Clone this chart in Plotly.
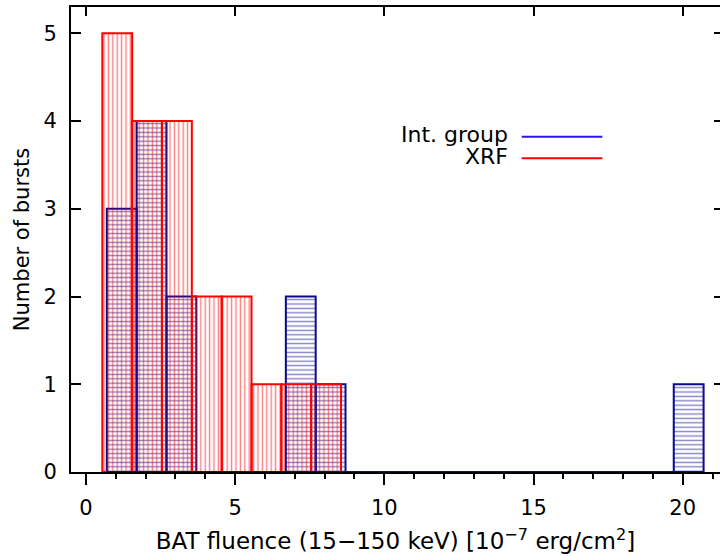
import plotly.graph_objects as go

# ---- data ----
xrf_bin_centers = [1.05, 2.05, 3.05, 4.05, 5.05, 6.05, 7.05, 8.05]
xrf_counts = [5, 4, 4, 2, 2, 1, 1, 1]

int_bin_centers = [1.2, 2.2, 3.2, 4.2, 5.2, 6.2, 7.2, 8.2, 9.2, 10.2,
                   11.2, 12.2, 13.2, 14.2, 15.2, 16.2, 17.2, 18.2, 19.2, 20.2]
int_counts = [3, 4, 2, 0, 0, 0, 2, 1, 0, 0,
              0, 0, 0, 0, 0, 0, 0, 0, 0, 1]
bin_width = 1.0

x_ticks = [0, 5, 10, 15, 20]
y_ticks = [0, 1, 2, 3, 4, 5]
legend_names = ["Int. group", "XRF"]

NAVY = "#0a0a8a"
RED = "#ff0000"
LEG_BLUE = "#2a16ee"
FONT = "DejaVu Sans"

fig = go.Figure()

# Int. group histogram (horizontal hatching)
fig.add_trace(go.Bar(
    x=int_bin_centers, y=int_counts, width=bin_width,
    marker=dict(color="rgba(0,0,0,0)",
                line=dict(color=NAVY, width=2),
                pattern=dict(shape="-", size=4.4, solidity=0.32,
                             fgcolor=NAVY, fillmode="overlay")),
    cliponaxis=False, showlegend=False, hoverinfo="skip"))

# baseline of the Int. group histogram
fig.add_trace(go.Scatter(
    x=[int_bin_centers[0] - bin_width / 2, int_bin_centers[-1] + bin_width / 2],
    y=[0, 0], mode="lines", line=dict(color=NAVY, width=2),
    cliponaxis=False, showlegend=False, hoverinfo="skip"))

# XRF histogram (vertical hatching)
fig.add_trace(go.Bar(
    x=xrf_bin_centers, y=xrf_counts, width=bin_width,
    marker=dict(color="rgba(0,0,0,0)",
                line=dict(color=RED, width=2),
                pattern=dict(shape="|", size=4.4, solidity=0.32,
                             fgcolor=RED, fillmode="overlay")),
    cliponaxis=False, showlegend=False, hoverinfo="skip"))

# invisible trace to anchor mirrored axes
fig.add_trace(go.Scatter(x=[None], y=[None], xaxis="x2", yaxis="y2",
                         showlegend=False, hoverinfo="skip"))

xr = [-0.5, 21.25]
yr = [0, 5.3]

fig.update_layout(
    width=720, height=557,
    margin=dict(l=71, r=0, t=7, b=85),
    paper_bgcolor="white", plot_bgcolor="white",
    barmode="overlay",
    font=dict(family=FONT, size=20, color="black"),
    xaxis=dict(range=xr, tickvals=x_ticks, ticks="outside", ticklen=11,
               tickwidth=2, tickcolor="black",
               minor=dict(dtick=1, ticks="outside", ticklen=5, tickwidth=2,
                          tickcolor="black"),
               showline=True, linewidth=2, linecolor="black",
               showgrid=False, zeroline=False, layer="below traces",
               ticklabelstandoff=5,
               title=dict(text="BAT fluence (15−150 keV) [10<sup>−7</sup> erg/cm<sup>2</sup>]",
                          standoff=14, font=dict(size=23)),
               tickfont=dict(size=21)),
    yaxis=dict(range=yr, tickvals=y_ticks, ticks="inside", ticklen=10,
               tickwidth=2, tickcolor="black",
               showline=True, linewidth=2, linecolor="black",
               showgrid=False, zeroline=False, layer="below traces",
               ticklabelstandoff=8,
               title=dict(text="Number of bursts", standoff=8,
                          font=dict(size=21)),
               tickfont=dict(size=21)),
    xaxis2=dict(range=xr, overlaying="x", side="top", anchor="y",
                tickvals=x_ticks, ticks="inside", ticklen=9, tickwidth=2,
                tickcolor="black", showticklabels=False,
                showline=True, linewidth=2, linecolor="black",
                showgrid=False, zeroline=False),
    yaxis2=dict(range=yr, overlaying="y", side="right", anchor="x",
                tickvals=y_ticks, ticks="inside", ticklen=6, tickwidth=2,
                tickcolor="black", showticklabels=False, showline=False,
                showgrid=False, zeroline=False),
)

# legend (text left of line, as in the original)
leg_colors = [LEG_BLUE, RED]
leg_y = [0.7211, 0.6746]
for name, col, yy in zip(legend_names, leg_colors, leg_y):
    fig.add_annotation(xref="paper", yref="paper", x=0.6745, y=yy + 0.004,
                       text=name, showarrow=False, xanchor="right",
                       yanchor="middle", borderpad=0,
                       font=dict(size=22, color="black"))
    fig.add_shape(type="line", xref="paper", yref="paper",
                  x0=0.6945, x1=0.8187, y0=yy, y1=yy,
                  line=dict(color=col, width=2))

fig.write_html("out.html")
